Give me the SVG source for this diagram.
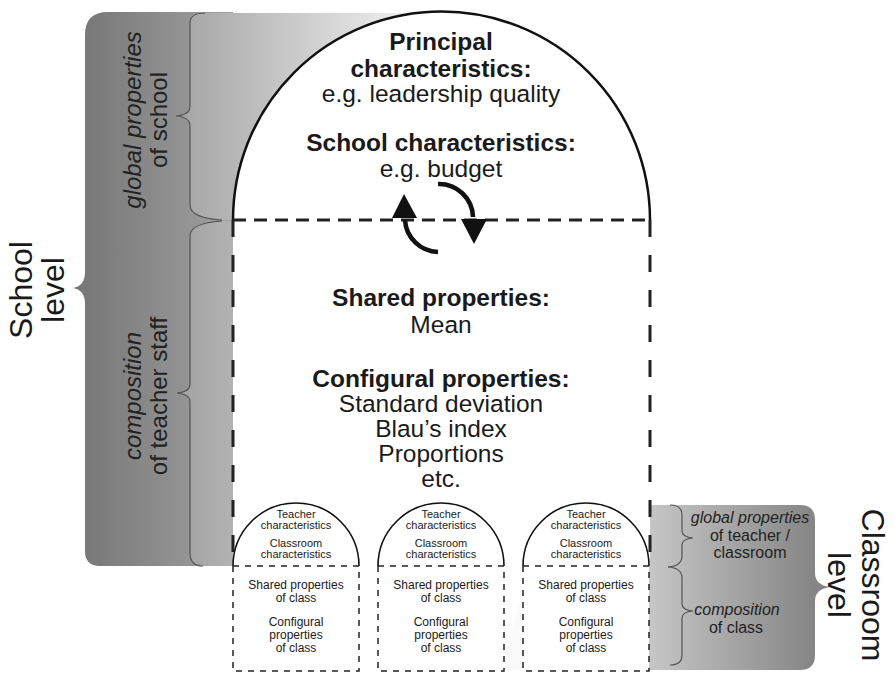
<svg xmlns="http://www.w3.org/2000/svg" width="895" height="673" viewBox="0 0 895 673">
<defs>
<linearGradient id="gOuter" gradientUnits="userSpaceOnUse" x1="85" y1="0" x2="233" y2="0"><stop offset="0" stop-color="#787878"/><stop offset="1" stop-color="#a0a0a0"/></linearGradient>
<linearGradient id="gTop" gradientUnits="userSpaceOnUse" x1="185" y1="0" x2="455" y2="0"><stop offset="0" stop-color="#a6a6a6"/><stop offset="1" stop-color="#ffffff"/></linearGradient>
<linearGradient id="gLow" gradientUnits="userSpaceOnUse" x1="185" y1="0" x2="233" y2="0"><stop offset="0" stop-color="#a3a3a3"/><stop offset="1" stop-color="#b2b2b2"/></linearGradient>
<linearGradient id="gRight" gradientUnits="userSpaceOnUse" x1="530" y1="0" x2="815" y2="0"><stop offset="0" stop-color="#fafafa"/><stop offset="0.42" stop-color="#c6c6c6"/><stop offset="1" stop-color="#858585"/></linearGradient>
</defs>
<style>
.t{font-family:"Liberation Sans",Arial,sans-serif;fill:#1a1a1a;text-anchor:middle}
.b{font-weight:bold}
.i{font-style:italic}
.big{font-size:24.5px}
.lvl{font-size:32px}
.side{font-size:24px;fill:#222}
.rs{font-size:16px;fill:#222}
.sm{font-size:11px}
.sm2{font-size:12px}
.brace{fill:none;stroke:#555;stroke-width:1.2}
.arch{fill:#fff;stroke:#111;stroke-width:2.5}
.sarch{fill:#fff;stroke:#111;stroke-width:1.6}
.dashH{stroke:#222;stroke-width:3;stroke-dasharray:13 8;fill:none}
.dashV{stroke:#222;stroke-width:3;stroke-dasharray:17 18;fill:none}
.sdash{stroke:#222;stroke-width:1.5;stroke-dasharray:6 6;fill:none}
.arr{fill:none;stroke:#111;stroke-width:4.5}
.head{fill:#111}
</style>

<g id="school-level-band">
<path d="M 108 12 L 233 12 L 233 566 L 100 566 Q 85 566 85 551 L 85 304 Q 85 290 73 288 Q 85 286 85 272 L 85 35 Q 85 12 108 12 Z" fill="url(#gOuter)"/>
<text class="t lvl" transform="rotate(-90)"><tspan x="-290" y="32">School</tspan><tspan x="-290" y="64">level</tspan></text>
</g>

<g id="global-properties-school">
<path d="M 200 13 L 480 13 L 480 220 L 222 220 Q 190 218 190 205 L 190 126 Q 190 117 176 116 Q 190 115 190 106 L 190 23 Q 190 13 200 13 Z" fill="url(#gTop)"/>
<path class="brace" d="M 205 13 Q 190 13 190 23 L 190 106 Q 190 115 176 116 Q 190 117 190 126 L 190 205 Q 190 218 222 220"/>
<text class="t side" transform="rotate(-90)"><tspan class="i" x="-120" y="141">global properties</tspan><tspan x="-120" y="167">of school</tspan></text>
</g>

<g id="composition-teacher-staff">
<path d="M 222 221 L 233 221 L 233 566 L 203 566 Q 190 566 190 553 L 190 402 Q 190 394 177 393 Q 190 392 190 384 L 190 236 Q 190 223 222 221 Z" fill="url(#gLow)"/>
<path class="brace" d="M 222 221 Q 190 223 190 236 L 190 384 Q 190 392 177 393 Q 190 394 190 402 L 190 553 Q 190 566 203 566"/>
<text class="t side" transform="rotate(-90)"><tspan class="i" x="-396" y="141">composition</tspan><tspan x="-396" y="167">of teacher staff</tspan></text>
</g>

<g id="classroom-level-band">
<path d="M 548 505 L 800 505 Q 815 505 815 520 L 815 573 Q 815 585 830 587 Q 815 589 815 601 L 815 655 Q 815 670 800 670 L 500 670 Z" fill="url(#gRight)"/>
<path class="brace" d="M 670 505 Q 682 505 682 515 L 682 531 Q 682 537 693 538 Q 682 539 682 545 L 682 556 Q 682 566 668 567"/>
<path class="brace" d="M 668 567 Q 682 568 682 578 L 682 604 Q 682 610 693 611 Q 682 612 682 618 L 682 655 Q 682 665 670 665"/>
<text class="t rs"><tspan class="i" x="750" y="523">global properties</tspan><tspan x="750" y="541">of teacher /</tspan><tspan x="750" y="558">classroom</tspan></text>
<text class="t rs"><tspan class="i" x="737" y="615">composition</tspan><tspan x="736" y="633">of class</tspan></text>
<text class="t lvl" transform="rotate(90)"><tspan x="585" y="-862">Classroom</tspan><tspan x="585" y="-828">level</tspan></text>
</g>

<g id="school">
<rect x="233" y="220" width="417" height="346" fill="#fff"/>
<path class="arch" d="M 233 220 A 208.5 208.5 0 0 1 650 220"/>
<line class="dashH" x1="233" y1="220" x2="650" y2="220"/>
<line class="dashV" x1="233" y1="220" x2="233" y2="566"/>
<line class="dashV" x1="650" y1="220" x2="650" y2="566"/>
<text class="t big"><tspan class="b" x="441" y="50">Principal</tspan><tspan class="b" x="441" y="77">characteristics:</tspan><tspan x="441" y="102">e.g. leadership quality</tspan><tspan class="b" x="441" y="151">School characteristics:</tspan><tspan x="441" y="177">e.g. budget</tspan></text>
<text class="t big"><tspan class="b" x="441" y="306">Shared properties:</tspan><tspan x="441" y="333">Mean</tspan><tspan class="b" x="441" y="387">Configural properties:</tspan><tspan x="441" y="412">Standard deviation</tspan><tspan x="441" y="437">Blau’s index</tspan><tspan x="441" y="462">Proportions</tspan><tspan x="441" y="487">etc.</tspan></text>
</g>

<g id="classroom-1">
<rect x="233" y="566" width="126" height="105" fill="#fff"/>
<path class="sarch" d="M 233 566 A 63 63 0 0 1 359 566"/>
<path class="sdash" d="M 233 566 H 359 M 233 566 V 671 H 359 V 566"/>
<text class="t sm"><tspan x="296" y="518">Teacher</tspan><tspan x="296" y="529">characteristics</tspan><tspan x="296" y="547">Classroom</tspan><tspan x="296" y="558">characteristics</tspan></text>
<text class="t sm2"><tspan x="296" y="589">Shared properties</tspan><tspan x="296" y="602">of class</tspan><tspan x="296" y="626">Configural</tspan><tspan x="296" y="639">properties</tspan><tspan x="296" y="652">of class</tspan></text>
</g>

<g id="classroom-2">
<rect x="378" y="566" width="126" height="105" fill="#fff"/>
<path class="sarch" d="M 378 566 A 63 63 0 0 1 504 566"/>
<path class="sdash" d="M 378 566 H 504 M 378 566 V 671 H 504 V 566"/>
<text class="t sm"><tspan x="441" y="518">Teacher</tspan><tspan x="441" y="529">characteristics</tspan><tspan x="441" y="547">Classroom</tspan><tspan x="441" y="558">characteristics</tspan></text>
<text class="t sm2"><tspan x="441" y="589">Shared properties</tspan><tspan x="441" y="602">of class</tspan><tspan x="441" y="626">Configural</tspan><tspan x="441" y="639">properties</tspan><tspan x="441" y="652">of class</tspan></text>
</g>

<g id="classroom-3">
<rect x="523" y="566" width="126" height="105" fill="#fff"/>
<path class="sarch" d="M 523 566 A 63 63 0 0 1 649 566"/>
<path class="sdash" d="M 523 566 H 649 M 523 566 V 671 H 649 V 566"/>
<text class="t sm"><tspan x="586" y="518">Teacher</tspan><tspan x="586" y="529">characteristics</tspan><tspan x="586" y="547">Classroom</tspan><tspan x="586" y="558">characteristics</tspan></text>
<text class="t sm2"><tspan x="586" y="589">Shared properties</tspan><tspan x="586" y="602">of class</tspan><tspan x="586" y="626">Configural</tspan><tspan x="586" y="639">properties</tspan><tspan x="586" y="652">of class</tspan></text>
</g>

<g id="connectors">
<path class="arr" d="M 438 252 A 34 34 0 0 1 405 220"/>
<polygon class="head" points="404,194 392,218 417,218"/>
<path class="arr" d="M 438 184 A 34 34 0 0 1 473 217"/>
<polygon class="head" points="474,244 461,219 487,219"/>
</g>
</svg>
